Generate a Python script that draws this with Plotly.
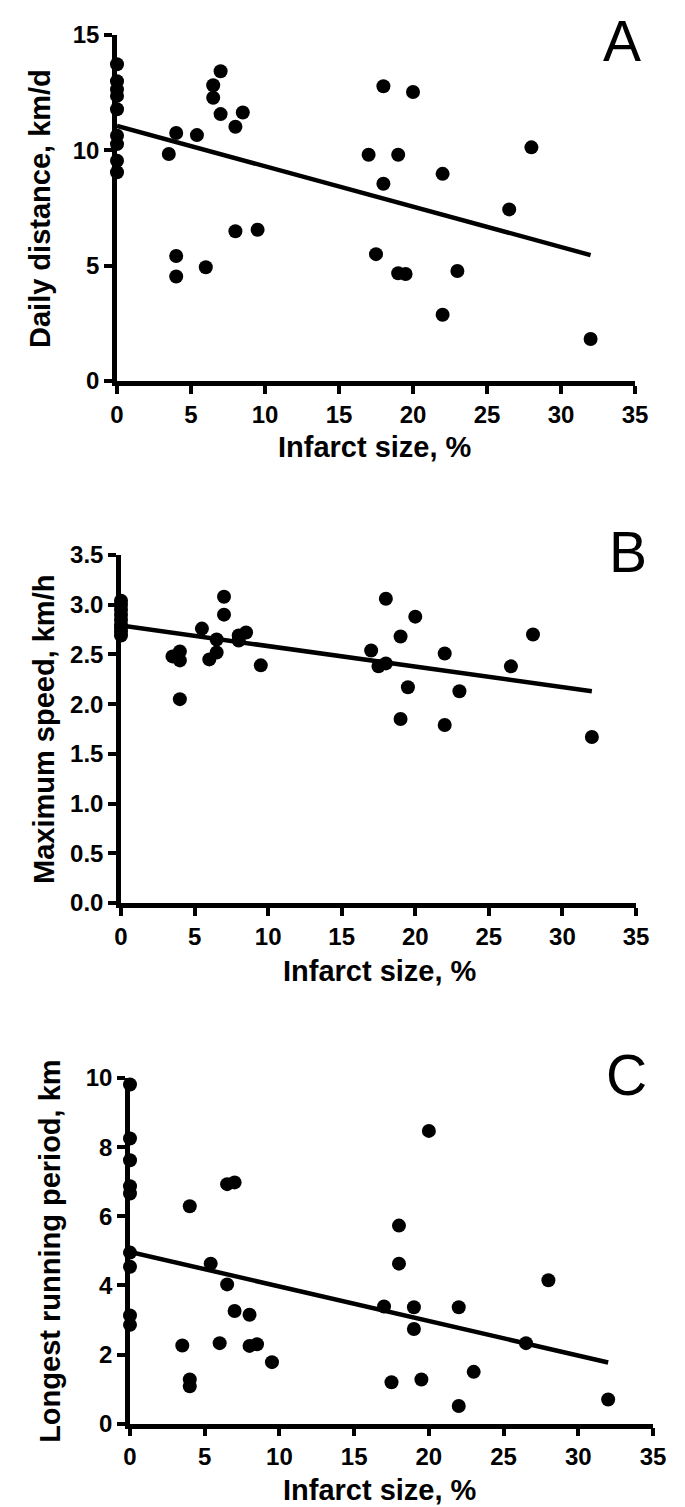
import plotly.graph_objects as go

W, H = 685, 1507

# ---------------- data ----------------
xticks = [0, 5, 10, 15, 20, 25, 30, 35]

a_x = [0, 0, 0, 0, 0, 0, 0, 0, 0,
       3.5, 4, 5.4, 7, 6.5, 6.5, 7, 8.5, 8, 8, 9.5, 4, 4, 6,
       18, 20, 17, 19, 22, 18, 28, 26.5, 17.5, 19, 19.5, 23, 22, 32]
a_y = [13.73, 13.0, 12.64, 12.36, 11.78, 10.63, 10.27, 9.55, 9.05,
       9.84, 10.75, 10.66, 13.43, 12.82, 12.28, 11.57, 11.64, 11.02, 6.49, 6.56, 5.42, 4.53, 4.93,
       12.78, 12.53, 9.81, 9.81, 8.98, 8.55, 10.13, 7.44, 5.5, 4.67, 4.64, 4.77, 2.87, 1.82]
a_fit_x = [0, 32]
a_fit_y = [11.06, 5.46]
a_yticks = [0, 5, 10, 15]

b_x = [0, 0, 0, 0, 0, 0, 0, 0, 0,
       7, 7, 5.5, 6.5, 6.5, 6, 8, 8, 8.5, 9.5, 3.5, 4, 4, 4,
       18, 20, 19, 17, 17.5, 18, 22, 28, 26.5, 19.5, 23, 19, 22, 32]
b_y = [3.04, 3.0, 2.95, 2.9, 2.85, 2.8, 2.77, 2.73, 2.69,
       3.08, 2.9, 2.76, 2.65, 2.52, 2.45, 2.69, 2.64, 2.72, 2.39, 2.48, 2.53, 2.44, 2.05,
       3.06, 2.88, 2.68, 2.54, 2.38, 2.41, 2.51, 2.70, 2.38, 2.17, 2.13, 1.85, 1.79, 1.67]
b_fit_x = [0, 32]
b_fit_y = [2.79, 2.13]
b_yticks = [0.0, 0.5, 1.0, 1.5, 2.0, 2.5, 3.0, 3.5]

c_x = [0, 0, 0, 0, 0, 0, 0, 0, 0,
       4, 6.5, 7, 5.4, 6.5, 7, 8, 8, 8.5, 9.5, 3.5, 6, 4, 4,
       20, 18, 18, 28, 17, 19, 22, 19, 26.5, 17.5, 19.5, 23, 22, 32]
c_y = [9.81, 8.25, 7.62, 6.87, 6.66, 4.95, 4.54, 3.13, 2.86,
       6.29, 6.93, 6.98, 4.63, 4.03, 3.26, 3.15, 2.25, 2.3, 1.78, 2.26, 2.33, 1.28, 1.08,
       8.47, 5.73, 4.63, 4.15, 3.39, 3.37, 3.37, 2.74, 2.33, 1.2, 1.28, 1.5, 0.51, 0.70]
c_fit_x = [0, 32]
c_fit_y = [4.97, 1.77]
c_yticks = [0, 2, 4, 6, 8, 10]

x_title = "Infarct size, %"
y_titles = ["Daily distance, km/d", "Maximum speed, km/h", "Longest running period, km"]
letters = ["A", "B", "C"]

# ---------------- layout helpers ----------------
def px(x):
    return x / W

def py(y):
    return 1 - y / H

BOLD = dict(family="Liberation Sans", size=24, color="black", weight="bold")
TITLE = dict(family="Liberation Sans", size=29, color="black", weight="bold")
LETTER = dict(family="Liberation Sans", size=57, color="black")

# letter: (centre x, top of the text box)
panels = [
    dict(x=a_x, y=a_y, fx=a_fit_x, fy=a_fit_y, yt=a_yticks, yr=[0, 15],
         left=107, right=627, top=27, bottom=375, ytfmt=None,
         xtitle_y=439, xtitle_x=367, ytitle_x=32, letter=(614, 0)),
    dict(x=b_x, y=b_y, fx=b_fit_x, fy=b_fit_y, yt=b_yticks, yr=[0, 3.5],
         left=111, right=628, top=547, bottom=897, ytfmt=".1f",
         xtitle_y=963, xtitle_x=372, ytitle_x=36, letter=(620, 511)),
    dict(x=c_x, y=c_y, fx=c_fit_x, fy=c_fit_y, yt=c_yticks, yr=[0, 10],
         left=120, right=645, top=1070, bottom=1417.7, ytfmt=None,
         xtitle_y=1482, xtitle_x=372, ytitle_x=42, letter=(618, 1034)),
]

fig = go.Figure()
annotations = []
for i, p in enumerate(panels):
    n = "" if i == 0 else str(i + 1)
    xa, ya = "x" + n, "y" + n
    fig.add_trace(go.Scatter(x=p["fx"], y=p["fy"], mode="lines",
                             line=dict(color="black", width=4.5),
                             xaxis=xa, yaxis=ya, cliponaxis=False,
                             showlegend=False, hoverinfo="skip"))
    fig.add_trace(go.Scatter(x=p["x"], y=p["y"], mode="markers",
                             marker=dict(color="black", size=14, line=dict(width=0)),
                             xaxis=xa, yaxis=ya, cliponaxis=False,
                             showlegend=False))
    common = dict(showgrid=False, zeroline=False, showline=True, linecolor="black",
                  linewidth=4.5, ticks="outside", ticklen=8, tickwidth=4,
                  tickcolor="black", tickfont=BOLD, automargin=False, mirror=False)
    fig.layout["xaxis" + n] = dict(common, domain=[px(p["left"] + 2), px(p["right"])],
                                   range=[0, 35], tickvals=xticks, anchor=ya)
    yax = dict(common, domain=[py(p["bottom"] - 2), py(p["top"])],
               range=p["yr"], tickvals=p["yt"], anchor=xa)
    if p["ytfmt"]:
        yax["tickformat"] = p["ytfmt"]
    fig.layout["yaxis" + n] = yax

    annotations.append(dict(text=x_title, x=px(p["xtitle_x"]), y=py(p["xtitle_y"]),
                            xref="paper", yref="paper", showarrow=False,
                            xanchor="center", yanchor="middle", font=TITLE))
    annotations.append(dict(text=y_titles[i], x=px(p["ytitle_x"]),
                            y=py((p["top"] + p["bottom"]) / 2),
                            xref="paper", yref="paper", showarrow=False, textangle=-90,
                            xanchor="center", yanchor="middle", font=TITLE))
    lx, ly = p["letter"]
    annotations.append(dict(text=letters[i], x=px(lx), y=py(ly),
                            xref="paper", yref="paper", showarrow=False,
                            xanchor="center", yanchor="top", borderpad=0,
                            font=LETTER))

fig.update_layout(width=W, height=H, margin=dict(l=0, r=0, t=0, b=0),
                  paper_bgcolor="white", plot_bgcolor="white",
                  template="none", annotations=annotations, showlegend=False)

fig.write_html("out.html")
